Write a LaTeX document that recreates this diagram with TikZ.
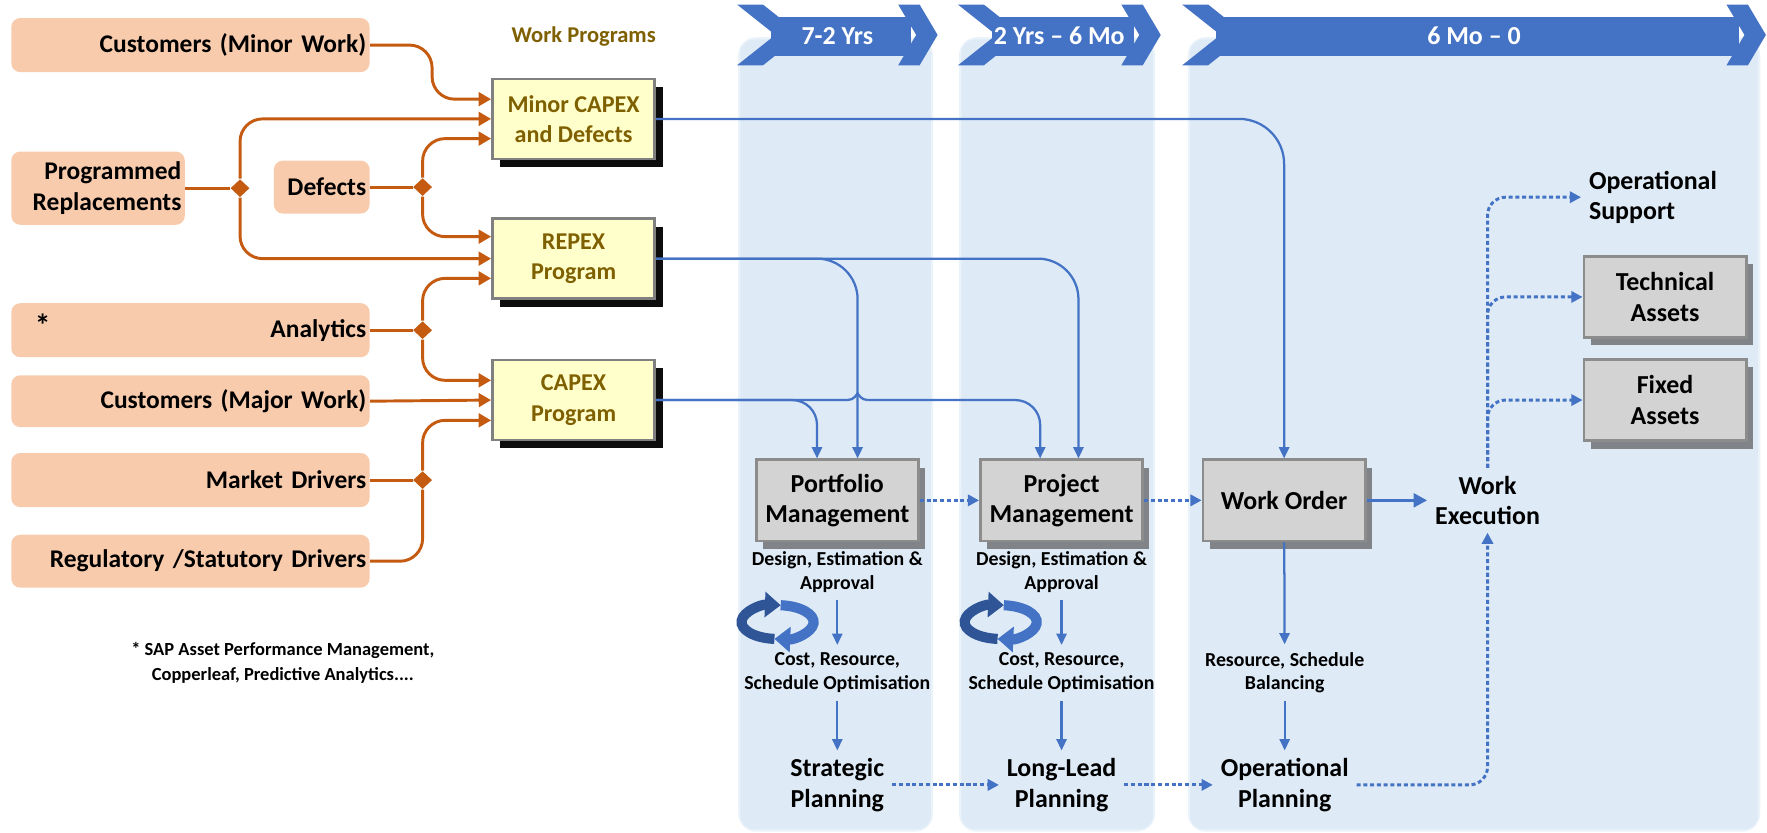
\documentclass[tikz,border=0pt]{standalone}
\usepackage{fontspec}
\setmainfont{Carlito}
\usetikzlibrary{arrows.meta,shapes.geometric,shadows,calc}

\definecolor{peach}{HTML}{F8CBAD}
\definecolor{rust}{HTML}{C55A11}
\definecolor{lemon}{HTML}{FFFFCC}
\definecolor{olive}{HTML}{7F6000}
\definecolor{steel}{HTML}{4472C4}
\definecolor{navy}{HTML}{2F5597}
\definecolor{lane}{HTML}{DEEBF7}
\definecolor{stone}{HTML}{D3D3D3}

\tikzset{
  src/.style={fill=peach, rounded corners=4pt, inner xsep=1.5pt, inner ysep=0pt, align=right,
    minimum height=24pt, font=\fontsize{11.3}{13.5}\selectfont\bfseries},
  prog/.style={draw=black!50, line width=1.2pt, fill=lemon, text=olive, minimum width=72pt,
    minimum height=35.5pt, align=center, font=\fontsize{10.7}{13.5}\selectfont\bfseries,
    drop shadow={shadow xshift=3.5pt, shadow yshift=-3.5pt, fill=black, opacity=0.95}},
  stage/.style={draw=black!45, line width=1.2pt, fill=stone, minimum width=72pt,
    minimum height=36pt, align=center, font=\fontsize{11.5}{13.5}\selectfont\bfseries,
    drop shadow={shadow xshift=3pt, shadow yshift=-3.5pt, fill=black!65, opacity=0.7}},
  plain/.style={align=center, font=\fontsize{11.5}{13.5}\selectfont\bfseries},
  note/.style={align=center, font=\fontsize{8.8}{10.5}\selectfont\bfseries},
  joint/.style={diamond, fill=rust, inner sep=0pt, minimum width=8.5pt, minimum height=8pt},
  feed/.style={draw=rust, line width=1.3pt, rounded corners=10pt, -{Triangle[length=5.5pt,width=6pt]}},
  feedline/.style={draw=rust, line width=1.3pt, rounded corners=10pt},
  flow/.style={draw=steel, line width=1pt, -{Triangle[length=5pt,width=4.5pt]}},
  flowline/.style={draw=steel, line width=1pt},
  dotflow/.style={draw=steel, line width=1.3pt, dash pattern=on 1.8pt off 1.2pt,
    rounded corners=8pt, -{Triangle[length=5pt,width=5pt]}},
  cycle/.style={line width=4.5pt, -{Triangle[length=7pt,width=11pt]}},
}

\begin{document}
\begin{tikzpicture}[x=0.5pt,y=-0.5pt]
\useasboundingbox (0,0) rectangle (1568,739);

% time lanes
\foreach \l/\r in {657/826,853/1023,1056/1560}{
  \fill[lane!60, rounded corners=8pt] (\l-2,33) rectangle (\r+2,738);
  \fill[lane, rounded corners=6pt] (\l,35) rectangle (\r,736);
}

% chevron headers
\foreach \l/\r/\t [count=\i] in {654/832/{7-2 Yrs},850/1030/{2 Yrs – 6 Mo},1049/1567/{6 Mo – 0}}{
  \fill[steel] (\l+30,15) rectangle (\r-24,50);
  \fill[steel] (\l,4) -- (\l+23,4) -- (\l+57,31) -- (\l+23,58) -- (\l,58) -- (\l+34,31) -- cycle;
  \fill[steel] (\r-35,4) -- (\r-16,4) -- (\r,31) -- (\r-16,58) -- (\r-35,58) -- (\r-19,31) -- cycle;
  \node[plain, text=white] (span\i) at ({(\l+\r)/2},32) {\t};
}

% sources
\node[src, text width=156pt] (cminor) at (169,40) {Customers (Minor Work)};
\node[src, text width=74pt, minimum height=32.5pt] (progrep) at (87,167) {Programmed\\Replacements};
\node[src, text width=39.5pt, minimum height=23.5pt] (defects) at (285.5,166) {Defects};
\node[src, text width=156pt] (analytics) at (169,293) {Analytics};
\node[font=\fontsize{14}{14}\selectfont\bfseries] (star) at (38,289) {*};
\node[src, text width=156pt, minimum height=23pt] (cmajor) at (169,356) {Customers (Major Work)};
\node[src, text width=156pt] (market) at (169,426) {Market Drivers};
\node[src, text width=156pt, minimum height=23.5pt] (regul) at (169,498) {Regulatory /Statutory Drivers};

% work programs
\node[plain, text=olive, font=\fontsize{10}{12}\selectfont\bfseries] (wprog) at (518,32) {Work Programs};
\node[prog] (minor) at (509,105.5) {Minor CAPEX\\and Defects};
\node[prog] (repex) at (509,229.5) {REPEX\\Program};
\node[prog] (capex) at (509,355) {CAPEX\\Program};

% joints
\node[joint] (jprog) at (213,167) {};
\node[joint] (jdef) at (375,166) {};
\node[joint] (jana) at (375,293) {};
\node[joint] (jmkt) at (375,426) {};

% stages
\node[stage] (pm) at (743,444) {Portfolio\\Management};
\node[stage] (prj) at (942,444) {Project\\Management};
\node[stage] (wo) at (1139.5,444) {Work Order};
\node[plain] (exec) at (1320,444) {Work\\Execution};
\node[plain, align=left, anchor=west] (opsup) at (1403,175) {Operational\\Support};
\node[stage] (tech) at (1477.5,263.5) {Technical\\Assets};
\node[stage] (fixed) at (1477.5,355) {Fixed\\Assets};

\node[note] (pmdes) at (743,507.5) {Design, Estimation \&\\Approval};
\node[note] (pmcost) at (743,597) {Cost, Resource,\\Schedule Optimisation};
\node[plain] (strat) at (743,696.5) {Strategic\\Planning};
\node[note] (prjdes) at (942,507.5) {Design, Estimation \&\\Approval};
\node[note] (prjcost) at (942,597) {Cost, Resource,\\Schedule Optimisation};
\node[plain] (lead) at (942,696.5) {Long-Lead\\Planning};
\node[note] (wobal) at (1140,597) {Resource, Schedule\\Balancing};
\node[plain] (oper) at (1140,696.5) {Operational\\Planning};

\node[note, font=\fontsize{8.2}{11}\selectfont\bfseries] (foot) at (251,588) {* SAP Asset Performance Management,\\Copperleaf, Predictive Analytics....};

% cycle icons
\foreach \c in {690,888}{
  \draw[cycle, steel] (\c,552) ++(275:32 and 15) arc[start angle=275, end angle=455, x radius=32, y radius=15];
  \draw[cycle, navy] (\c,552) ++(95:32 and 15) arc[start angle=95, end angle=275, x radius=32, y radius=15];
}

% orange feeds
\draw[feed] (cminor.east) -- ++(55,0) |- ($(minor.west)+(0,-17.5)$);
\draw[feedline] (progrep.east) -- (jprog);
\draw[feed] (jprog.north) |- (minor.west);
\draw[feed] (jprog.south) |- (repex.west);
\draw[feedline] (defects.east) -- (jdef);
\draw[feed] (jdef.north) |- ($(minor.west)+(0,17.5)$);
\draw[feed] (jdef.south) |- ($(repex.west)+(0,-19.5)$);
\draw[feedline] (analytics.east) -- (jana);
\draw[feed] (jana.north) |- ($(repex.west)+(0,17.5)$);
\draw[feed] (jana.south) |- ($(capex.west)+(0,-17.5)$);
\draw[feed] (cmajor.east) -- (capex.west);
\draw[feedline] (market.east) -- (jmkt);
\draw[feed] (jmkt.north) |- ($(capex.west)+(0,18)$);
\draw[feedline] (regul.east) -| (jmkt.south);

% blue flows
\draw[flow, rounded corners=20pt] (minor.east) -| (wo.north);
\draw[flow, rounded corners=18pt] (repex.east) -| ($(pm.north)+(18,0)$);
\draw[flow, rounded corners=18pt] (repex.east) -| ($(prj.north)+(15,0)$);
\draw[flow, rounded corners=11pt] (capex.east) -| ($(pm.north)+(-18,0)$);
\coordinate (hop) at ($(capex.east -| pm.north)+(18,0)$);
\draw[flowline] (capex.east) -- ($(hop)+(-9,0)$) .. controls ($(hop)+(-3,0)$) and ($(hop)+(-1,-5)$) .. ($(hop)+(0,-6)$) .. controls ($(hop)+(1,-5)$) and ($(hop)+(3,0)$) .. ($(hop)+(9,0)$);
\draw[flow, rounded corners=11pt] ($(hop)+(9,0)$) -| ($(prj.north)+(-19,0)$);

\draw[dotflow] (pm.east) -- (prj.west);
\draw[dotflow] (prj.east) -- (wo.west);
\draw[steel, line width=1.6pt, -{Triangle[length=6pt,width=6pt]}] (wo.east) -- (exec.west);

\draw[flow] (pmdes) -- (pmcost);
\draw[flow] (pmcost) -- (strat);
\draw[flow] (prjdes) -- (prjcost);
\draw[flow] (prjcost) -- (lead);
\draw[flow] (wo) -- (wobal);
\draw[flow] (wobal) -- (oper);

\draw[dotflow] (strat.east) -- (lead.west);
\draw[dotflow] (lead.east) -- (oper.west);
\draw[dotflow] (oper.east) -| (exec.south);
\draw[dotflow] (exec.north) |- (opsup.west);
\draw[dotflow] (exec.north) |- (tech.west);
\draw[dotflow] (exec.north) |- (fixed.west);

\end{tikzpicture}
\end{document}
